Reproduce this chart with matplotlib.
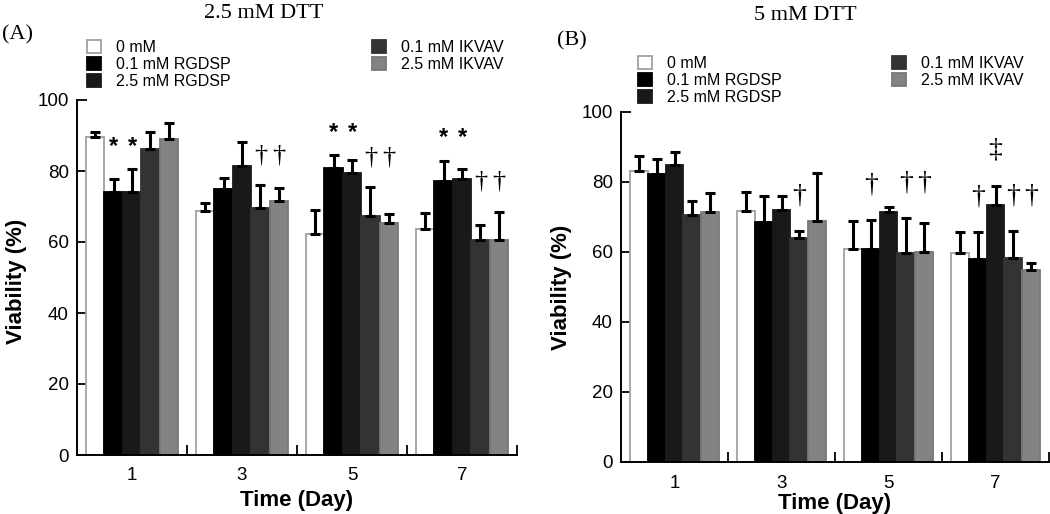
import numpy as np
import matplotlib
matplotlib.use('Agg')
import matplotlib.pyplot as plt

plt.rcParams['font.family'] = ['Liberation Sans', 'DejaVu Sans']

days = ['1', '3', '5', '7']
series = ['0 mM', '0.1 mM RGDSP', '2.5 mM RGDSP', '0.1 mM IKVAV', '2.5 mM IKVAV']
colors = ['#ffffff', '#000000', '#191919', '#333333', '#838383']
edges = ['#a0a0a0', '#000000', '#191919', '#333333', '#777777']

# panel A: 2.5 mM DTT  (rows = series, cols = days)
mean_a = [[89.7, 68.7, 62.3, 63.6],
          [74.2, 74.9, 80.9, 77.2],
          [74.2, 81.4, 79.5, 77.7],
          [86.3, 69.7, 67.3, 60.6],
          [89.1, 71.6, 65.4, 60.5]]
err_a = [[1.2, 2.2, 6.7, 4.7],
         [3.5, 3.1, 3.5, 5.6],
         [6.3, 6.7, 3.5, 2.8],
         [4.8, 6.3, 8.1, 4.1],
         [4.3, 3.6, 2.5, 8.0]]
# (day index, series indices, symbol)
marks_a = [(0, [1, 2], '*'), (1, [3, 4], '\u2020'), (2, [1, 2], '*'),
           (2, [3, 4], '\u2020'), (3, [1, 2], '*'), (3, [3, 4], '\u2020')]

# panel B: 5 mM DTT
mean_b = [[83.2, 71.7, 60.8, 59.6],
          [82.3, 68.7, 61.0, 57.9],
          [85.0, 71.9, 71.3, 73.3],
          [70.5, 63.9, 59.6, 58.4],
          [71.5, 68.9, 60.1, 55.0]]
err_b = [[4.1, 5.4, 8.2, 6.0],
         [4.4, 7.4, 8.1, 7.7],
         [3.7, 4.2, 1.6, 5.7],
         [4.2, 2.1, 10.1, 7.7],
         [5.4, 13.8, 8.1, 1.9]]
marks_b = [(1, [3], '\u2020'), (2, [1], '\u2020'), (2, [3, 4], '\u2020'),
           (3, [2], '\u2021'), (3, [1], '\u2020'), (3, [3, 4], '\u2020')]

W = 1050
H = 514
fig = plt.figure(figsize=(W / 100, H / 100), dpi=100)

bw = 0.167
offs = (np.arange(5) - 2) * bw


def panel(rect, mean, err, marks, pad, dsize):
    ax = fig.add_axes(rect)
    x = np.arange(len(days)) + 0.5
    handles = []
    for i in range(len(series)):
        m = np.array(mean[i])
        e = np.array(err[i])
        b = ax.bar(x + offs[i], m, bw, color=colors[i], edgecolor=edges[i],
                   linewidth=1.3, label=series[i], zorder=2)
        ax.errorbar(x + offs[i], m, yerr=[np.zeros_like(e), e], fmt='none',
                    ecolor='black', elinewidth=2.2, capsize=3.5, capthick=2.2,
                    zorder=3)
        handles.append(b)
    for d, idx, sym in marks:
        top = max(mean[i][d] + err[i][d] for i in idx)
        for i in idx:
            if sym == '*':
                ax.text(x[d] + offs[i], top + pad - 2, sym, ha='center', va='center',
                        fontsize=17, fontweight='bold')
            else:
                ax.text(x[d] + offs[i], top + pad, sym, ha='center', va='center',
                        fontsize=dsize, family=['Liberation Serif', 'DejaVu Serif'])
    ax.set_xlim(0, 4)
    ax.set_ylim(0, 100)
    ax.set_yticks(np.arange(0, 101, 20))
    ax.set_xticks(x)
    ax.set_xticklabels(days)
    ax.set_xticks([1, 2, 3, 4], minor=True)
    ax.tick_params(axis='x', which='major', length=0, labelsize=13.5, pad=9)
    ax.tick_params(axis='x', which='minor', direction='in', length=7, width=1.3)
    ax.tick_params(axis='y', direction='in', length=7, width=1.3, labelsize=13.5, pad=6)
    for s in ['top', 'right']:
        ax.spines[s].set_visible(False)
    for s in ['left', 'bottom']:
        ax.spines[s].set_linewidth(1.4)
    ax.set_ylabel('Viability (%)', fontsize=16, fontweight='bold')
    ax.set_xlabel('Time (Day)', fontsize=16, fontweight='bold')
    return ax, handles


axA, hA = panel([77 / W, 1 - 455 / H, 440 / W, 355 / H], mean_a, err_a, marks_a, 8.5, 19)
axA.yaxis.set_label_coords(-0.114, 0.49)
axA.xaxis.set_label_coords(0.5, -0.098)

axB, hB = panel([621 / W, 1 - 462 / H, 428 / W, 350 / H], mean_b, err_b, marks_b, 10, 20)
axB.yaxis.set_label_coords(-0.114, 0.5)
axB.xaxis.set_label_coords(0.5, -0.088)

leg_kw = dict(loc='upper left', frameon=False, fontsize=11.5, handlelength=0.85,
              handleheight=0.85, handletextpad=0.95, labelspacing=0.12,
              borderpad=0, borderaxespad=0)
fig.legend(hA[:3], series[:3], bbox_to_anchor=(87 / W, 1 - 40 / H), **leg_kw)
fig.legend(hA[3:], series[3:], bbox_to_anchor=(372 / W, 1 - 40 / H), **leg_kw)
fig.legend(hB[:3], series[:3], bbox_to_anchor=(638 / W, 1 - 56 / H), **leg_kw)
fig.legend(hB[3:], series[3:], bbox_to_anchor=(892 / W, 1 - 56 / H), **leg_kw)

serif = ['Liberation Serif', 'DejaVu Serif']
fig.text(264 / W, 1 - 13 / H, '2.5 mM DTT', ha='center', va='center', fontsize=16, family=serif)
fig.text(805 / W, 1 - 15 / H, '5 mM DTT', ha='center', va='center', fontsize=16, family=serif)
fig.text(2 / W, 1 - 35 / H, '(A)', ha='left', va='center', fontsize=16, family=serif)
fig.text(557 / W, 1 - 41 / H, '(B)', ha='left', va='center', fontsize=16, family=serif)

fig.savefig('out.png', dpi=100)
